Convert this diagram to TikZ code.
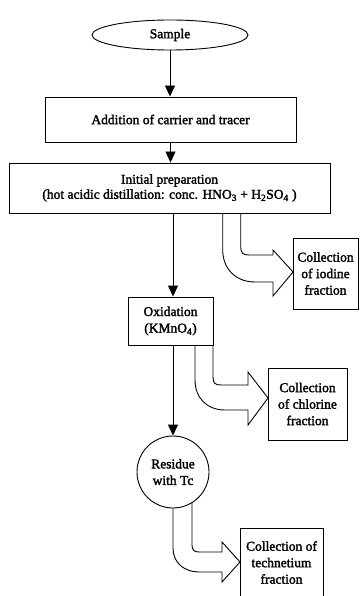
\documentclass[tikz,border=0pt]{standalone}
\usepackage{fontspec}
\setmainfont{Liberation Serif}
\newfontfamily\txtfont[FakeBold=2]{Liberation Serif}
\usetikzlibrary{shapes.geometric,arrows.meta}
\begin{document}
\begin{tikzpicture}[x=1pt,y=-1pt, line width=0.9pt,
 every node/.style={font=\txtfont\fontsize{13.5}{16.5}\selectfont, align=center, inner sep=0pt},
 box/.style={draw, rectangle},
 flow/.style={-{Triangle[width=10pt,length=11pt]}},
 bigarrow/.style={draw, line join=miter}]
\useasboundingbox (0,0) rectangle (360,596);

\node[draw, ellipse, minimum width=156pt, minimum height=30pt] (sample) at (170,35) {Sample};
\node[box, minimum width=251pt, minimum height=45pt] (add) at (170.5,119.5) {Addition of carrier and tracer};
\node[box, minimum width=321pt, minimum height=50pt, font=\txtfont\fontsize{13.5}{15}\selectfont] (init) at (169.5,188) {Initial preparation\\(hot acidic distillation: conc. HNO\textsubscript{3} + H\textsubscript{2}SO\textsubscript{4} )};
\node[box, minimum width=85pt, minimum height=48pt] (oxid) at (170.5,321) {Oxidation\\(KMnO\textsubscript{4})};
\node[draw, circle, minimum size=72pt] (res) at (173,472) {Residue\\with Tc};
\node[box, minimum width=65pt, minimum height=71pt] (iod) at (325.5,273.5) {Collection\\of iodine\\fraction};
\node[box, minimum width=79pt, minimum height=72pt] (chl) at (307.5,404) {Collection\\of chlorine\\fraction};
\node[box, minimum width=83pt, minimum height=69pt] (tc) at (281.5,562.5) {Collection of\\technetium\\fraction};

\draw[flow] (sample.south) -- (sample.south |- add.north);
\draw[flow] (add.south) -- (add.south |- init.north);
\draw[flow] (init.south -| res.north) -- (oxid.north -| res.north);
\draw[flow] (oxid.south -| res.north) -- (res.north);

\coordinate (ti) at (293,272);
\coordinate (tcl) at (268,398);
\coordinate (ttc) at (240,562);

\draw[bigarrow] (240.7,213) -- (240.7,247) .. controls (240.7,253) and (243,255) .. (249,255)
  -- (273,255) -- (273,250) -- (ti) -- (273,296) -- (273,282) -- (255,282)
  .. controls (235,282) and (222.7,268) .. (222.7,250) -- (222.7,213);

\draw[bigarrow] (213,345) -- (213,377) .. controls (213,383) and (215,385) .. (221,385)
  -- (248,385) -- (248,372) -- (tcl) -- (248,425) -- (248,410) -- (225,410)
  .. controls (207,410) and (195,398) .. (195,380) -- (195,345);

\draw[bigarrow] (192,502.6) -- (192,545) .. controls (192,550) and (194,552) .. (199,552)
  -- (222,552) -- (222,542) -- (ttc) -- (222,582) -- (222,572) -- (200,572)
  .. controls (183,572) and (173,562) .. (173,548) -- (173,508);
\end{tikzpicture}
\end{document}
